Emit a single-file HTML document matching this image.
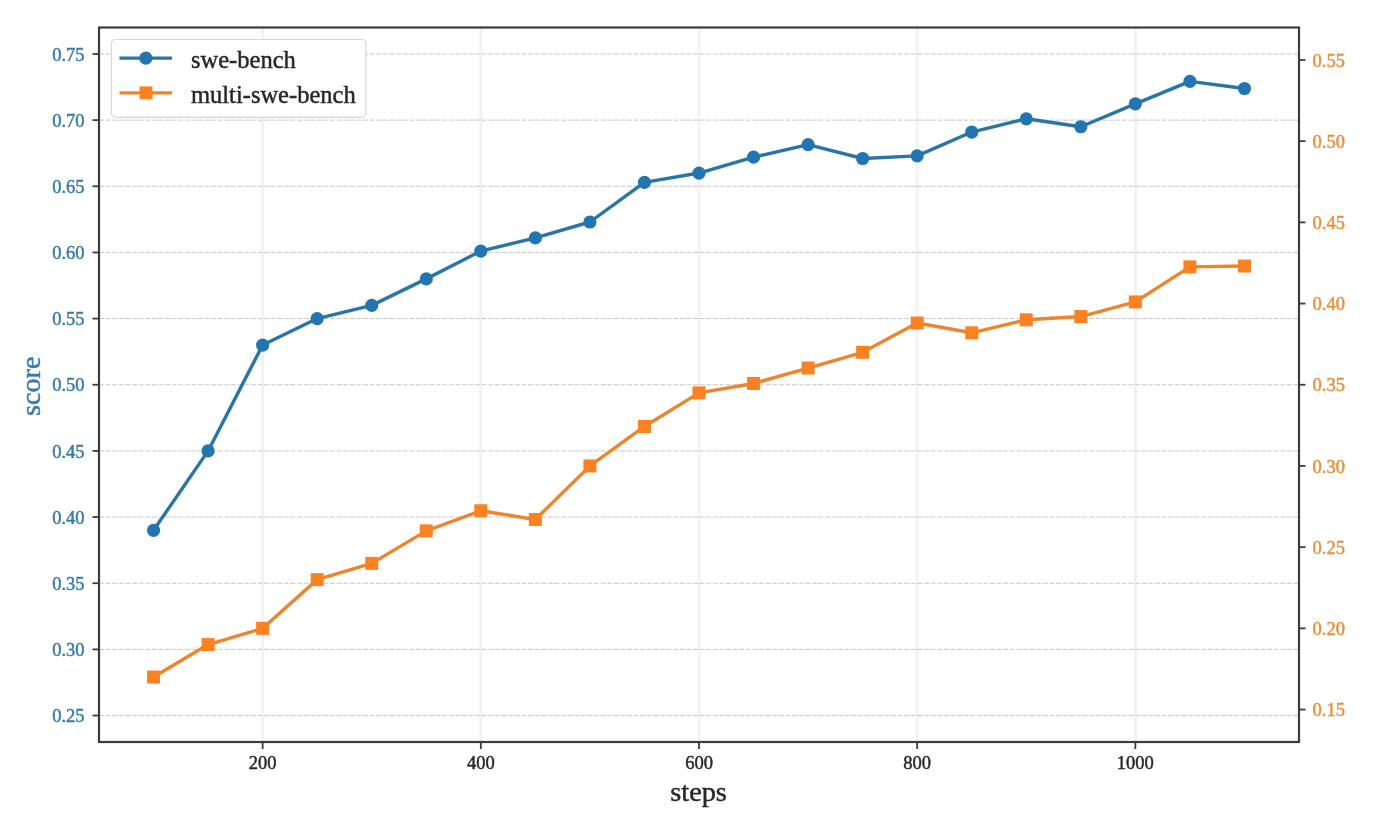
<!DOCTYPE html>
<html><head><meta charset="utf-8"><title>score vs steps</title>
<style>
html,body{margin:0;padding:0;background:#ffffff;}
body{width:1380px;height:818px;overflow:hidden;}
svg{display:block;font-family:"Liberation Serif",serif;filter:blur(0.6px);}
text{stroke-width:0.45px;paint-order:stroke;}
</style></head><body>
<svg width="1380" height="818" viewBox="0 0 1380 818">
<line x1="262.64" y1="27.5" x2="262.64" y2="742.0" stroke="#f2f2f2" stroke-width="3"/>
<line x1="480.82" y1="27.5" x2="480.82" y2="742.0" stroke="#f2f2f2" stroke-width="3"/>
<line x1="699.00" y1="27.5" x2="699.00" y2="742.0" stroke="#f2f2f2" stroke-width="3"/>
<line x1="917.18" y1="27.5" x2="917.18" y2="742.0" stroke="#f2f2f2" stroke-width="3"/>
<line x1="1135.36" y1="27.5" x2="1135.36" y2="742.0" stroke="#f2f2f2" stroke-width="3"/>
<line x1="99.0" y1="715.54" x2="1299.0" y2="715.54" stroke="#c2c2c2" stroke-width="0.9" stroke-dasharray="5 1.6"/>
<line x1="99.0" y1="649.38" x2="1299.0" y2="649.38" stroke="#c2c2c2" stroke-width="0.9" stroke-dasharray="5 1.6"/>
<line x1="99.0" y1="583.22" x2="1299.0" y2="583.22" stroke="#c2c2c2" stroke-width="0.9" stroke-dasharray="5 1.6"/>
<line x1="99.0" y1="517.06" x2="1299.0" y2="517.06" stroke="#c2c2c2" stroke-width="0.9" stroke-dasharray="5 1.6"/>
<line x1="99.0" y1="450.91" x2="1299.0" y2="450.91" stroke="#c2c2c2" stroke-width="0.9" stroke-dasharray="5 1.6"/>
<line x1="99.0" y1="384.75" x2="1299.0" y2="384.75" stroke="#c2c2c2" stroke-width="0.9" stroke-dasharray="5 1.6"/>
<line x1="99.0" y1="318.59" x2="1299.0" y2="318.59" stroke="#c2c2c2" stroke-width="0.9" stroke-dasharray="5 1.6"/>
<line x1="99.0" y1="252.44" x2="1299.0" y2="252.44" stroke="#c2c2c2" stroke-width="0.9" stroke-dasharray="5 1.6"/>
<line x1="99.0" y1="186.28" x2="1299.0" y2="186.28" stroke="#c2c2c2" stroke-width="0.9" stroke-dasharray="5 1.6"/>
<line x1="99.0" y1="120.12" x2="1299.0" y2="120.12" stroke="#c2c2c2" stroke-width="0.9" stroke-dasharray="5 1.6"/>
<line x1="99.0" y1="53.96" x2="1299.0" y2="53.96" stroke="#c2c2c2" stroke-width="0.9" stroke-dasharray="5 1.6"/>
<polyline points="153.55,530.30 208.09,450.91 262.64,345.06 317.18,318.59 371.73,305.36 426.27,278.90 480.82,251.11 535.36,237.88 589.91,222.00 644.45,182.31 699.00,173.05 753.55,157.17 808.09,144.60 862.64,158.49 917.18,155.85 971.73,132.03 1026.27,118.80 1080.82,126.74 1135.36,103.85 1189.91,81.35 1244.45,88.50" fill="none" stroke="#2a74a6" stroke-width="3.4" stroke-linejoin="round" stroke-linecap="round"/>
<circle cx="153.55" cy="530.30" r="6.6" fill="#2275b0"/>
<circle cx="208.09" cy="450.91" r="6.6" fill="#2275b0"/>
<circle cx="262.64" cy="345.06" r="6.6" fill="#2275b0"/>
<circle cx="317.18" cy="318.59" r="6.6" fill="#2275b0"/>
<circle cx="371.73" cy="305.36" r="6.6" fill="#2275b0"/>
<circle cx="426.27" cy="278.90" r="6.6" fill="#2275b0"/>
<circle cx="480.82" cy="251.11" r="6.6" fill="#2275b0"/>
<circle cx="535.36" cy="237.88" r="6.6" fill="#2275b0"/>
<circle cx="589.91" cy="222.00" r="6.6" fill="#2275b0"/>
<circle cx="644.45" cy="182.31" r="6.6" fill="#2275b0"/>
<circle cx="699.00" cy="173.05" r="6.6" fill="#2275b0"/>
<circle cx="753.55" cy="157.17" r="6.6" fill="#2275b0"/>
<circle cx="808.09" cy="144.60" r="6.6" fill="#2275b0"/>
<circle cx="862.64" cy="158.49" r="6.6" fill="#2275b0"/>
<circle cx="917.18" cy="155.85" r="6.6" fill="#2275b0"/>
<circle cx="971.73" cy="132.03" r="6.6" fill="#2275b0"/>
<circle cx="1026.27" cy="118.80" r="6.6" fill="#2275b0"/>
<circle cx="1080.82" cy="126.74" r="6.6" fill="#2275b0"/>
<circle cx="1135.36" cy="103.85" r="6.6" fill="#2275b0"/>
<circle cx="1189.91" cy="81.35" r="6.6" fill="#2275b0"/>
<circle cx="1244.45" cy="88.50" r="6.6" fill="#2275b0"/>
<polyline points="153.55,677.05 208.09,644.57 262.64,628.33 317.18,579.61 371.73,563.38 426.27,530.90 480.82,510.76 535.36,519.53 589.91,465.94 644.45,426.48 699.00,392.87 753.55,383.45 808.09,368.02 862.64,352.27 917.18,323.04 971.73,332.79 1026.27,319.80 1080.82,316.55 1135.36,301.93 1189.91,266.86 1244.45,266.05" fill="none" stroke="#ec852e" stroke-width="3.4" stroke-linejoin="round" stroke-linecap="round"/>
<rect x="147.05" y="670.55" width="13" height="13" fill="#fa8223"/>
<rect x="201.59" y="638.07" width="13" height="13" fill="#fa8223"/>
<rect x="256.14" y="621.83" width="13" height="13" fill="#fa8223"/>
<rect x="310.68" y="573.11" width="13" height="13" fill="#fa8223"/>
<rect x="365.23" y="556.88" width="13" height="13" fill="#fa8223"/>
<rect x="419.77" y="524.40" width="13" height="13" fill="#fa8223"/>
<rect x="474.32" y="504.26" width="13" height="13" fill="#fa8223"/>
<rect x="528.86" y="513.03" width="13" height="13" fill="#fa8223"/>
<rect x="583.41" y="459.44" width="13" height="13" fill="#fa8223"/>
<rect x="637.95" y="419.98" width="13" height="13" fill="#fa8223"/>
<rect x="692.50" y="386.37" width="13" height="13" fill="#fa8223"/>
<rect x="747.05" y="376.95" width="13" height="13" fill="#fa8223"/>
<rect x="801.59" y="361.52" width="13" height="13" fill="#fa8223"/>
<rect x="856.14" y="345.77" width="13" height="13" fill="#fa8223"/>
<rect x="910.68" y="316.54" width="13" height="13" fill="#fa8223"/>
<rect x="965.23" y="326.29" width="13" height="13" fill="#fa8223"/>
<rect x="1019.77" y="313.30" width="13" height="13" fill="#fa8223"/>
<rect x="1074.32" y="310.05" width="13" height="13" fill="#fa8223"/>
<rect x="1128.86" y="295.43" width="13" height="13" fill="#fa8223"/>
<rect x="1183.41" y="260.36" width="13" height="13" fill="#fa8223"/>
<rect x="1237.95" y="259.55" width="13" height="13" fill="#fa8223"/>
<rect x="99.0" y="27.5" width="1200.0" height="714.5" fill="none" stroke="#3c3c3c" stroke-width="2.2"/>
<line x1="92.5" y1="715.54" x2="99.0" y2="715.54" stroke="#3c3c3c" stroke-width="1.8"/>
<line x1="92.5" y1="649.38" x2="99.0" y2="649.38" stroke="#3c3c3c" stroke-width="1.8"/>
<line x1="92.5" y1="583.22" x2="99.0" y2="583.22" stroke="#3c3c3c" stroke-width="1.8"/>
<line x1="92.5" y1="517.06" x2="99.0" y2="517.06" stroke="#3c3c3c" stroke-width="1.8"/>
<line x1="92.5" y1="450.91" x2="99.0" y2="450.91" stroke="#3c3c3c" stroke-width="1.8"/>
<line x1="92.5" y1="384.75" x2="99.0" y2="384.75" stroke="#3c3c3c" stroke-width="1.8"/>
<line x1="92.5" y1="318.59" x2="99.0" y2="318.59" stroke="#3c3c3c" stroke-width="1.8"/>
<line x1="92.5" y1="252.44" x2="99.0" y2="252.44" stroke="#3c3c3c" stroke-width="1.8"/>
<line x1="92.5" y1="186.28" x2="99.0" y2="186.28" stroke="#3c3c3c" stroke-width="1.8"/>
<line x1="92.5" y1="120.12" x2="99.0" y2="120.12" stroke="#3c3c3c" stroke-width="1.8"/>
<line x1="92.5" y1="53.96" x2="99.0" y2="53.96" stroke="#3c3c3c" stroke-width="1.8"/>
<line x1="1299.0" y1="709.52" x2="1305.5" y2="709.52" stroke="#3c3c3c" stroke-width="1.8"/>
<line x1="1299.0" y1="628.33" x2="1305.5" y2="628.33" stroke="#3c3c3c" stroke-width="1.8"/>
<line x1="1299.0" y1="547.14" x2="1305.5" y2="547.14" stroke="#3c3c3c" stroke-width="1.8"/>
<line x1="1299.0" y1="465.94" x2="1305.5" y2="465.94" stroke="#3c3c3c" stroke-width="1.8"/>
<line x1="1299.0" y1="384.75" x2="1305.5" y2="384.75" stroke="#3c3c3c" stroke-width="1.8"/>
<line x1="1299.0" y1="303.56" x2="1305.5" y2="303.56" stroke="#3c3c3c" stroke-width="1.8"/>
<line x1="1299.0" y1="222.36" x2="1305.5" y2="222.36" stroke="#3c3c3c" stroke-width="1.8"/>
<line x1="1299.0" y1="141.17" x2="1305.5" y2="141.17" stroke="#3c3c3c" stroke-width="1.8"/>
<line x1="1299.0" y1="59.98" x2="1305.5" y2="59.98" stroke="#3c3c3c" stroke-width="1.8"/>
<line x1="262.64" y1="742.0" x2="262.64" y2="749.0" stroke="#3c3c3c" stroke-width="1.8"/>
<line x1="480.82" y1="742.0" x2="480.82" y2="749.0" stroke="#3c3c3c" stroke-width="1.8"/>
<line x1="699.00" y1="742.0" x2="699.00" y2="749.0" stroke="#3c3c3c" stroke-width="1.8"/>
<line x1="917.18" y1="742.0" x2="917.18" y2="749.0" stroke="#3c3c3c" stroke-width="1.8"/>
<line x1="1135.36" y1="742.0" x2="1135.36" y2="749.0" stroke="#3c3c3c" stroke-width="1.8"/>
<text x="84.5" y="722.14" text-anchor="end" font-size="18.5" fill="#3579ad" stroke="#3579ad">0.25</text>
<text x="84.5" y="655.98" text-anchor="end" font-size="18.5" fill="#3579ad" stroke="#3579ad">0.30</text>
<text x="84.5" y="589.82" text-anchor="end" font-size="18.5" fill="#3579ad" stroke="#3579ad">0.35</text>
<text x="84.5" y="523.66" text-anchor="end" font-size="18.5" fill="#3579ad" stroke="#3579ad">0.40</text>
<text x="84.5" y="457.51" text-anchor="end" font-size="18.5" fill="#3579ad" stroke="#3579ad">0.45</text>
<text x="84.5" y="391.35" text-anchor="end" font-size="18.5" fill="#3579ad" stroke="#3579ad">0.50</text>
<text x="84.5" y="325.19" text-anchor="end" font-size="18.5" fill="#3579ad" stroke="#3579ad">0.55</text>
<text x="84.5" y="259.04" text-anchor="end" font-size="18.5" fill="#3579ad" stroke="#3579ad">0.60</text>
<text x="84.5" y="192.88" text-anchor="end" font-size="18.5" fill="#3579ad" stroke="#3579ad">0.65</text>
<text x="84.5" y="126.72" text-anchor="end" font-size="18.5" fill="#3579ad" stroke="#3579ad">0.70</text>
<text x="84.5" y="60.56" text-anchor="end" font-size="18.5" fill="#3579ad" stroke="#3579ad">0.75</text>
<text x="1312.5" y="716.12" text-anchor="start" font-size="18.5" fill="#ea8e3a" stroke="#ea8e3a">0.15</text>
<text x="1312.5" y="634.93" text-anchor="start" font-size="18.5" fill="#ea8e3a" stroke="#ea8e3a">0.20</text>
<text x="1312.5" y="553.74" text-anchor="start" font-size="18.5" fill="#ea8e3a" stroke="#ea8e3a">0.25</text>
<text x="1312.5" y="472.54" text-anchor="start" font-size="18.5" fill="#ea8e3a" stroke="#ea8e3a">0.30</text>
<text x="1312.5" y="391.35" text-anchor="start" font-size="18.5" fill="#ea8e3a" stroke="#ea8e3a">0.35</text>
<text x="1312.5" y="310.16" text-anchor="start" font-size="18.5" fill="#ea8e3a" stroke="#ea8e3a">0.40</text>
<text x="1312.5" y="228.96" text-anchor="start" font-size="18.5" fill="#ea8e3a" stroke="#ea8e3a">0.45</text>
<text x="1312.5" y="147.77" text-anchor="start" font-size="18.5" fill="#ea8e3a" stroke="#ea8e3a">0.50</text>
<text x="1312.5" y="66.58" text-anchor="start" font-size="18.5" fill="#ea8e3a" stroke="#ea8e3a">0.55</text>
<text x="262.64" y="769.2" text-anchor="middle" font-size="18.5" fill="#262626" stroke="#262626">200</text>
<text x="480.82" y="769.2" text-anchor="middle" font-size="18.5" fill="#262626" stroke="#262626">400</text>
<text x="699.00" y="769.2" text-anchor="middle" font-size="18.5" fill="#262626" stroke="#262626">600</text>
<text x="917.18" y="769.2" text-anchor="middle" font-size="18.5" fill="#262626" stroke="#262626">800</text>
<text x="1135.36" y="769.2" text-anchor="middle" font-size="18.5" fill="#262626" stroke="#262626">1000</text>
<text x="0" y="0" transform="translate(40.3 386.3) rotate(-90)" text-anchor="middle" font-size="28.2" fill="#3579ad" stroke="#3579ad">score</text>
<text x="698.6" y="800.7" text-anchor="middle" font-size="28.3" fill="#262626" stroke="#262626">steps</text>
<rect x="111.5" y="39.5" width="254.5" height="77.8" rx="4" ry="4" fill="#ffffff" fill-opacity="0.96" stroke="#d6d6d6" stroke-width="1.2"/>
<line x1="119.5" y1="58.1" x2="172" y2="58.1" stroke="#2a74a6" stroke-width="3.4"/>
<circle cx="145.9" cy="58.1" r="6.6" fill="#2275b0"/>
<line x1="119.5" y1="92.9" x2="172" y2="92.9" stroke="#ec852e" stroke-width="3.4"/>
<rect x="139.5" y="86.4" width="13" height="13" fill="#fa8223"/>
<text x="191" y="67.8" font-size="24.5" fill="#262626" stroke="#262626">swe-bench</text>
<text x="191" y="102.7" font-size="24.5" fill="#262626" stroke="#262626">multi-swe-bench</text>
</svg>
</body></html>
